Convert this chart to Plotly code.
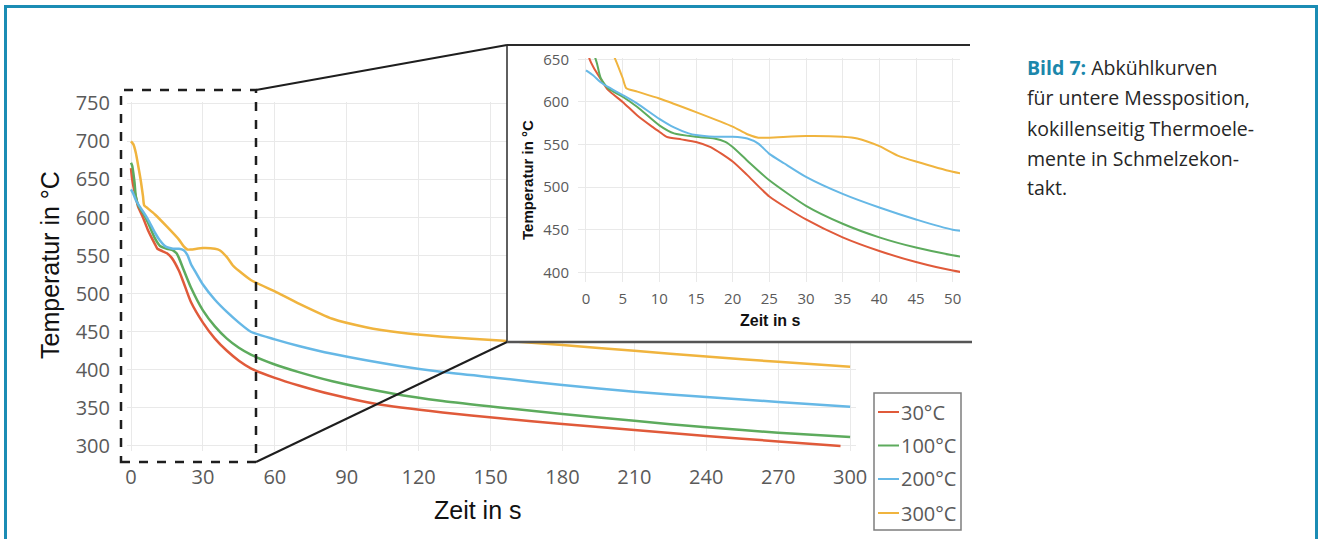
import plotly.graph_objects as go

# ---- data: cooling curves (time in s, temperature in °C) ----
series_names = ["30°C", "100°C", "200°C", "300°C"]
series_colors = ["#e05a3a", "#5dab5d", "#66b8e6", "#f0b43e"]

t_30 = [0, 0.5, 1, 2, 3, 5, 7, 9, 10, 11, 13, 15, 17, 20, 22, 25, 30, 35, 40, 45, 50,
        60, 70, 84, 102.5, 130, 154, 180, 210, 240, 270, 296]
T_30 = [665, 650, 641, 627, 614, 600, 584, 571, 565, 559, 556, 553, 547, 530, 514, 489, 462, 441, 425, 412, 402,
        389.5, 379.5, 367.5, 355, 344, 336.4, 329, 321, 313, 306, 300]

t_100 = [0, 0.5, 1, 1.5, 2, 3, 5, 7, 10, 12, 15, 17.5, 19, 20, 22, 25, 30, 35, 40, 45, 50,
         60, 70, 84, 109, 130, 154, 180, 210, 240, 270, 300]
T_100 = [672, 668, 658, 645, 628, 616, 606, 594, 572.5, 563, 559, 557, 553, 547, 531, 508, 478, 457, 441, 429, 420,
         407, 397, 385, 369, 359, 350.5, 342, 333, 324.5, 317.5, 311.8]

t_200 = [0, 1, 2, 3, 5, 7, 10, 12, 14, 15, 17.5, 20, 22, 23.5, 25, 27, 30, 35, 40, 45, 50,
         60, 70, 84, 112, 130, 154, 180, 210, 240, 270, 300]
T_200 = [637, 631, 623, 617.5, 608, 598, 580, 570, 563, 561, 559, 559, 557, 551, 539, 528, 512, 492, 476, 462, 450,
         440, 431.3, 421, 405, 397, 389, 380, 371.3, 364.3, 357.8, 351.6]

t_300 = [0, 1, 2, 3, 4, 5, 5.5, 7, 10, 15, 20, 22, 23.5, 25, 30, 35, 37, 40, 42.5, 45, 50,
         60, 70, 84, 98, 112, 130, 154, 180, 210, 240, 270, 300]
T_300 = [700, 696, 685, 668, 650, 628, 616, 612, 604, 588, 571, 562, 558, 558, 560, 559, 557, 548, 537, 530, 518,
         503, 487, 467, 456, 449, 443.5, 438.5, 432.5, 425, 417.5, 410.5, 404]

times = [t_30, t_100, t_200, t_300]
temps = [T_30, T_100, T_200, T_300]

main_xticks = list(range(0, 301, 30))
main_yticks = list(range(300, 751, 50))
inset_xticks = list(range(0, 51, 5))
inset_yticks = list(range(400, 651, 50))

caption_head = "Bild 7:"
caption_lines = ["Abkühlkurven", "für untere Messposition,", "kokillenseitig Thermoele-",
                 "mente in Schmelzekon-", "takt."]

# ---- page geometry (pixels) ----
W, H = 1321, 539


def px(xp):
    return xp / W


def py(yp):
    return 1 - yp / H


TICK_GRAY = "#5a5a5a"
GRID = "#e9e9e9"

fig = go.Figure()

for name, col, tx, ty in zip(series_names, series_colors, times, temps):
    fig.add_trace(go.Scatter(x=tx, y=ty, mode="lines", name=name, showlegend=False,
                             line=dict(color=col, width=2.5, shape="spline", smoothing=0.6),
                             xaxis="x", yaxis="y", hoverinfo="skip"))

# white panel that holds the zoomed view
fig.add_trace(go.Scatter(x=[], y=[], xaxis="x2", yaxis="y2", showlegend=False))

for name, col, tx, ty in zip(series_names, series_colors, times, temps):
    fig.add_trace(go.Scatter(x=tx, y=ty, mode="lines", name=name, showlegend=False,
                             line=dict(color=col, width=2, shape="spline", smoothing=0.6),
                             xaxis="x3", yaxis="y3", hoverinfo="skip"))

tick_font_main = dict(family="Open Sans", size=20, color=TICK_GRAY)
tick_font_inset = dict(family="Open Sans", size=15, color=TICK_GRAY)

axis_common = dict(showgrid=True, gridcolor=GRID, gridwidth=1, zeroline=False, showline=False,
                   ticks="", automargin=False)

fig.update_layout(
    width=W, height=H, autosize=False,
    margin=dict(l=0, r=0, t=0, b=0, pad=0, autoexpand=False),
    paper_bgcolor="white", plot_bgcolor="white",
    showlegend=False,
    xaxis=dict(domain=[px(127), px(856)], range=[-1.67, 302.46], tickvals=main_xticks,
               tickfont=tick_font_main, ticklabelstandoff=12, anchor="y", **axis_common),
    yaxis=dict(domain=[py(451), py(102)], range=[293.4, 751.7], tickvals=main_yticks,
               tickfont=tick_font_main, ticklabelstandoff=16, anchor="x", **axis_common),
    xaxis2=dict(domain=[px(507), px(970)], range=[0, 1], visible=False, anchor="y2", automargin=False),
    yaxis2=dict(domain=[py(342), py(45)], range=[0, 1], visible=False, anchor="x2", automargin=False),
    xaxis3=dict(domain=[px(578), px(960)], range=[-1.09, 51.0], tickvals=inset_xticks,
                tickfont=tick_font_inset, ticklabelstandoff=6, anchor="y3", **axis_common),
    yaxis3=dict(domain=[py(282), py(58)], range=[388.6, 651.5], tickvals=inset_yticks,
                tickfont=tick_font_inset, ticklabelstandoff=8, anchor="x3", **axis_common),
)

shapes = []
# outer frame
shapes.append(dict(type="rect", xref="paper", yref="paper", x0=px(5.5), x1=px(1316.5),
                   y0=py(580), y1=py(6.5), line=dict(color="#1b8cb4", width=3), layer="above"))
# dashed zoom window on the main chart
shapes.append(dict(type="rect", xref="paper", yref="paper", x0=px(121), x1=px(256),
                   y0=py(462), y1=py(90), line=dict(color="#1e1e1e", width=2.5, dash="dash"),
                   layer="above"))
# connectors to the zoomed panel
shapes.append(dict(type="line", xref="paper", yref="paper", x0=px(256), y0=py(90), x1=px(507), y1=py(45),
                   line=dict(color="#1e1e1e", width=2), layer="above"))
shapes.append(dict(type="line", xref="paper", yref="paper", x0=px(256), y0=py(462), x1=px(507), y1=py(342),
                   line=dict(color="#1e1e1e", width=2), layer="above"))
# zoomed panel border (left, top, bottom)
shapes.append(dict(type="line", xref="paper", yref="paper", x0=px(507), y0=py(45), x1=px(970), y1=py(45),
                   line=dict(color="#2a2a2a", width=2), layer="above"))
shapes.append(dict(type="line", xref="paper", yref="paper", x0=px(507), y0=py(45), x1=px(507), y1=py(342),
                   line=dict(color="#2a2a2a", width=1.5), layer="above"))
shapes.append(dict(type="line", xref="paper", yref="paper", x0=px(507), y0=py(342), x1=px(972), y1=py(342),
                   line=dict(color="#555555", width=2.5), layer="above"))

# legend box with line samples
shapes.append(dict(type="rect", xref="paper", yref="paper", x0=px(874), x1=px(961), y0=py(530), y1=py(393),
                   line=dict(color="#7d7d7d", width=1.5), fillcolor="white", layer="above"))
legend_y = [412, 445.5, 479, 513]
annotations = []
for name, col, ly in zip(series_names, series_colors, legend_y):
    shapes.append(dict(type="line", xref="paper", yref="paper", x0=px(878), x1=px(899), y0=py(ly), y1=py(ly),
                       line=dict(color=col, width=2), layer="above"))
    annotations.append(dict(xref="paper", yref="paper", x=px(899), y=py(ly), text=name, showarrow=False,
                            xanchor="left", yanchor="middle",
                            font=dict(family="Open Sans", size=20, color=TICK_GRAY)))

# axis titles
annotations.append(dict(xref="paper", yref="paper", x=px(478), y=py(510), text="Zeit in s", showarrow=False,
                        xanchor="center", yanchor="middle",
                        font=dict(family="Liberation Sans", size=25, color="#111111")))
annotations.append(dict(xref="paper", yref="paper", x=px(50), y=py(265), text="Temperatur in °C",
                        showarrow=False, textangle=-90, xanchor="center", yanchor="middle",
                        font=dict(family="Liberation Sans", size=25, color="#111111")))
annotations.append(dict(xref="paper", yref="paper", x=px(770), y=py(320), text="<b>Zeit in s</b>",
                        showarrow=False, xanchor="center", yanchor="middle",
                        font=dict(family="Liberation Sans", size=16, color="#111111")))
annotations.append(dict(xref="paper", yref="paper", x=px(527), y=py(180), text="<b>Temperatur in °C</b>",
                        showarrow=False, textangle=-90, xanchor="center", yanchor="middle",
                        font=dict(family="Liberation Sans", size=15, color="#111111")))

# caption
cap_y = [67, 97, 128, 158, 188]
for i, (line, cy) in enumerate(zip(caption_lines, cap_y)):
    txt = line
    if i == 0:
        txt = "<b><span style='color:#1c87ab'>" + caption_head + "</span></b> " + line
    annotations.append(dict(xref="paper", yref="paper", x=px(1025), y=py(cy), text=txt, showarrow=False,
                            xanchor="left", yanchor="middle",
                            font=dict(family="Open Sans", size=19.5, color="#262626")))

fig.update_layout(shapes=shapes, annotations=annotations)
fig.write_html("out.html")
